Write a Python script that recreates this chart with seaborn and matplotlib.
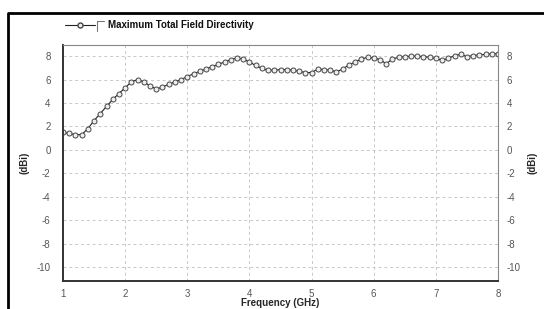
import numpy as np
import pandas as pd
import seaborn as sns
import matplotlib.pyplot as plt
from matplotlib.lines import Line2D

# frequency sweep (GHz) and directivity (dBi)
freq = [1.0, 1.1, 1.2, 1.3, 1.4, 1.5, 1.6, 1.7, 1.8, 1.9,
        2.0, 2.1, 2.2, 2.3, 2.4, 2.5, 2.6, 2.7, 2.8, 2.9,
        3.0, 3.1, 3.2, 3.3, 3.4, 3.5, 3.6, 3.7, 3.8, 3.9,
        4.0, 4.1, 4.2, 4.3, 4.4, 4.5, 4.6, 4.7, 4.8, 4.9,
        5.0, 5.1, 5.2, 5.3, 5.4, 5.5, 5.6, 5.7, 5.8, 5.9,
        6.0, 6.1, 6.2, 6.3, 6.4, 6.5, 6.6, 6.7, 6.8, 6.9,
        7.0, 7.1, 7.2, 7.3, 7.4, 7.5, 7.6, 7.7, 7.8, 7.9, 8.0]
directivity = [1.5, 1.4, 1.3, 1.3, 1.8, 2.5, 3.1, 3.7, 4.3, 4.8,
               5.3, 5.8, 6.0, 5.8, 5.45, 5.2, 5.35, 5.6, 5.8, 6.0,
               6.25, 6.5, 6.7, 6.9, 7.1, 7.3, 7.5, 7.7, 7.85, 7.75,
               7.5, 7.2, 6.95, 6.8, 6.8, 6.85, 6.85, 6.8, 6.7, 6.6,
               6.6, 6.9, 6.85, 6.8, 6.65, 6.9, 7.25, 7.5, 7.75, 7.9,
               7.85, 7.7, 7.35, 7.75, 7.9, 7.95, 8.0, 8.0, 7.95, 7.9,
               7.8, 7.65, 7.8, 8.05, 8.15, 7.95, 8.05, 8.1, 8.15, 8.2, 8.2]
x_ticks = [1, 2, 3, 4, 5, 6, 7, 8]
y_ticks = [-10, -8, -6, -4, -2, 0, 2, 4, 6, 8]
legend_label = "Maximum Total Field Directivity"

df = pd.DataFrame({"freq": freq, "dir": directivity})

sns.set_style("white")
plt.rcParams["font.family"] = ["Liberation Sans", "DejaVu Sans"]
plt.rcParams["axes.unicode_minus"] = False

fig = plt.figure(figsize=(5.44, 3.09), dpi=100)
ax = fig.add_axes([63/544, 1 - 281/309, 435/544, 236/309])

sns.lineplot(data=df, x="freq", y="dir", ax=ax, color="#222222", lw=0.8,
             marker="o", markersize=3.6, markerfacecolor="#eeeeee",
             markeredgecolor="#444444", markeredgewidth=0.7)

ax.set_xlim(1, 8)
ax.set_ylim(-11.2, 8.95)
ax.set_xticks(x_ticks)
ax.set_yticks(y_ticks)
ax.grid(True, color="#c8c8c8", ls=(0, (3, 3)), lw=0.7)
ax.tick_params(axis="y", length=0, labelsize=7, colors="#555555", pad=9)
ax.tick_params(axis="x", length=0, labelsize=7, colors="#555555", pad=6)
ax.set_xlabel("Frequency (GHz)", fontsize=7, fontweight="bold", labelpad=-1)
ax.set_ylabel("(dBi)", fontsize=7, fontweight="bold", labelpad=5)

for side in ["left", "bottom"]:
    ax.spines[side].set_color("#333333")
    ax.spines[side].set_linewidth(1.4)
for side in ["top", "right"]:
    ax.spines[side].set_color("#888888")
    ax.spines[side].set_linewidth(0.8)

ax2 = ax.twinx()
ax2.set_ylim(ax.get_ylim())
ax2.set_yticks(y_ticks)
ax2.tick_params(length=0, labelsize=7, colors="#555555", pad=6)
ax2.set_ylabel("(dBi)", fontsize=7, fontweight="bold", labelpad=5)
for s in ax2.spines.values():
    s.set_visible(False)

# legend drawn at the top
fig.add_artist(Line2D([65/544, 95/544], [1 - 25/309] * 2, color="#222222", lw=0.8,
                      transform=fig.transFigure))
fig.add_artist(Line2D([80/544], [1 - 25/309], marker="o", markersize=3.6,
                      markerfacecolor="#eeeeee", markeredgecolor="#444444",
                      transform=fig.transFigure))
fig.add_artist(Line2D([97/544, 97/544, 104/544], [1 - 31/309, 1 - 21/309, 1 - 21/309],
                      color="#777777", lw=0.8, transform=fig.transFigure))
fig.text(108/544, 1 - 25/309, legend_label, fontsize=7, fontweight="bold",
         va="center", ha="left", color="#111111")

# outer frame
fig.add_artist(Line2D([8/544, 8/544, 1], [0, 1 - 13/309, 1 - 13/309],
                      color="black", lw=2, transform=fig.transFigure))

fig.savefig("out.png", dpi=100)
